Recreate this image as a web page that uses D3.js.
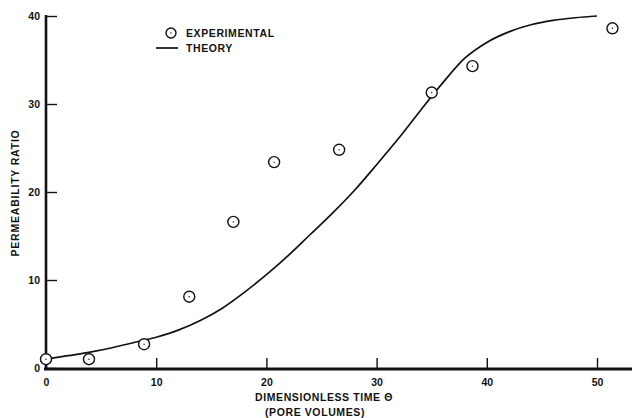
<!DOCTYPE html>
<html>
<head>
<meta charset="utf-8">
<script src="https://cdn.jsdelivr.net/npm/d3@7/dist/d3.min.js"></script>
<style>
  html, body { margin: 0; padding: 0; background: #fff; }
  svg { display: block; }
  text { font-family: "Liberation Sans", Arial, sans-serif; font-weight: bold; fill: #111; }
</style>
</head>
<body>
<svg id="chart" width="632" height="418"></svg>
<script>
// Experimental permeability ratio vs. dimensionless time (pore volumes)
const expTime  = [0, 3.9, 8.9, 13.0, 17.0, 20.7, 26.6, 35.0, 38.7, 51.4];
const expRatio = [1.0, 1.0, 2.7, 8.1, 16.6, 23.4, 24.8, 31.3, 34.3, 38.6];

// Theoretical curve
const theoryTime  = [0, 2, 4, 6, 8, 10, 12, 14, 16, 18, 20, 22, 24, 26, 28, 30, 32, 34, 36, 38, 40, 42, 44, 46, 48, 50];
const theoryRatio = [1.0, 1.4, 1.8, 2.3, 2.9, 3.5, 4.3, 5.4, 6.8, 8.6, 10.6, 12.8, 15.2, 17.6, 20.2, 23.1, 26.1, 29.3, 32.4, 35.2, 37.0, 38.2, 39.0, 39.5, 39.8, 40.0];

const xTicks = [0, 10, 20, 30, 40, 50];
const yTicks = [0, 10, 20, 30, 40];

const svg = d3.select("#chart");
const x = d3.scaleLinear().domain([0, 50]).range([46, 597]);
const y = d3.scaleLinear().domain([0, 40]).range([368, 16]);

// Axes: ticks point inward
const xAxis = d3.axisBottom(x).tickValues(xTicks).tickSize(0).tickPadding(0);
const yAxis = d3.axisLeft(y).tickValues(yTicks).tickSize(0).tickPadding(0);

const gx = svg.append("g").attr("transform", "translate(0,369)").call(xAxis);
gx.select(".domain").remove();
gx.selectAll(".tick line").remove();
gx.selectAll(".tick text").attr("dy", null).attr("y", 17).attr("font-size", 10.5).attr("fill", "#111");
gx.selectAll(".tick").append("line")
  .attr("y1", -1).attr("y2", -11).attr("stroke", "#111").attr("stroke-width", 1.4);
svg.append("line").attr("x1", 44).attr("x2", 632).attr("y1", 369).attr("y2", 369)
  .attr("stroke", "#111").attr("stroke-width", 3);

const gy = svg.append("g").attr("transform", "translate(46,0)").call(yAxis);
gy.select(".domain").remove();
gy.selectAll(".tick line").remove();
gy.selectAll(".tick text").attr("x", -6).attr("dy", "0.36em").attr("font-size", 10.5).attr("fill", "#111");
gy.selectAll(".tick").append("line")
  .attr("x1", 1).attr("x2", 11).attr("stroke", "#111").attr("stroke-width", 1.4);
svg.append("line").attr("x1", 46).attr("x2", 46).attr("y1", 15).attr("y2", 370)
  .attr("stroke", "#111").attr("stroke-width", 2.6);

// Axis titles
svg.append("text").attr("x", 324).attr("y", 401).attr("text-anchor", "middle")
  .attr("font-size", 10.5).attr("letter-spacing", 0.6).text("DIMENSIONLESS TIME Θ");
svg.append("text").attr("x", 315).attr("y", 416).attr("text-anchor", "middle")
  .attr("font-size", 10.5).attr("letter-spacing", 0.6).text("(PORE VOLUMES)");
svg.append("text").attr("transform", "translate(19,193) rotate(-90)")
  .attr("text-anchor", "middle").attr("font-size", 10.5).attr("letter-spacing", 0.8)
  .text("PERMEABILITY RATIO");

// Theory curve
const line = d3.line().x((d, i) => x(theoryTime[i])).y(d => y(d)).curve(d3.curveMonotoneX);
svg.append("path").datum(theoryRatio).attr("d", line)
  .attr("fill", "none").attr("stroke", "#111").attr("stroke-width", 1.7);

// Experimental points
const pts = svg.append("g").selectAll("g").data(expTime).join("g")
  .attr("transform", (d, i) => `translate(${x(d)},${y(expRatio[i])})`);
pts.append("circle").attr("r", 5.5).attr("fill", "#fff").attr("stroke", "#111").attr("stroke-width", 1.4);
pts.append("circle").attr("r", 0.7).attr("fill", "#111");

// Legend
const lg = svg.append("g");
lg.append("circle").attr("cx", 171).attr("cy", 33).attr("r", 5).attr("fill", "#fff").attr("stroke", "#111").attr("stroke-width", 1.4);
lg.append("circle").attr("cx", 171).attr("cy", 33).attr("r", 0.7).attr("fill", "#111");
lg.append("text").attr("x", 186).attr("y", 37).attr("font-size", 10.5).attr("letter-spacing", 0.6).text("EXPERIMENTAL");
lg.append("line").attr("x1", 156).attr("x2", 178).attr("y1", 48).attr("y2", 48).attr("stroke", "#111").attr("stroke-width", 1.7);
lg.append("text").attr("x", 186).attr("y", 52).attr("font-size", 10.5).attr("letter-spacing", 0.6).text("THEORY");
</script>
</body>
</html>
